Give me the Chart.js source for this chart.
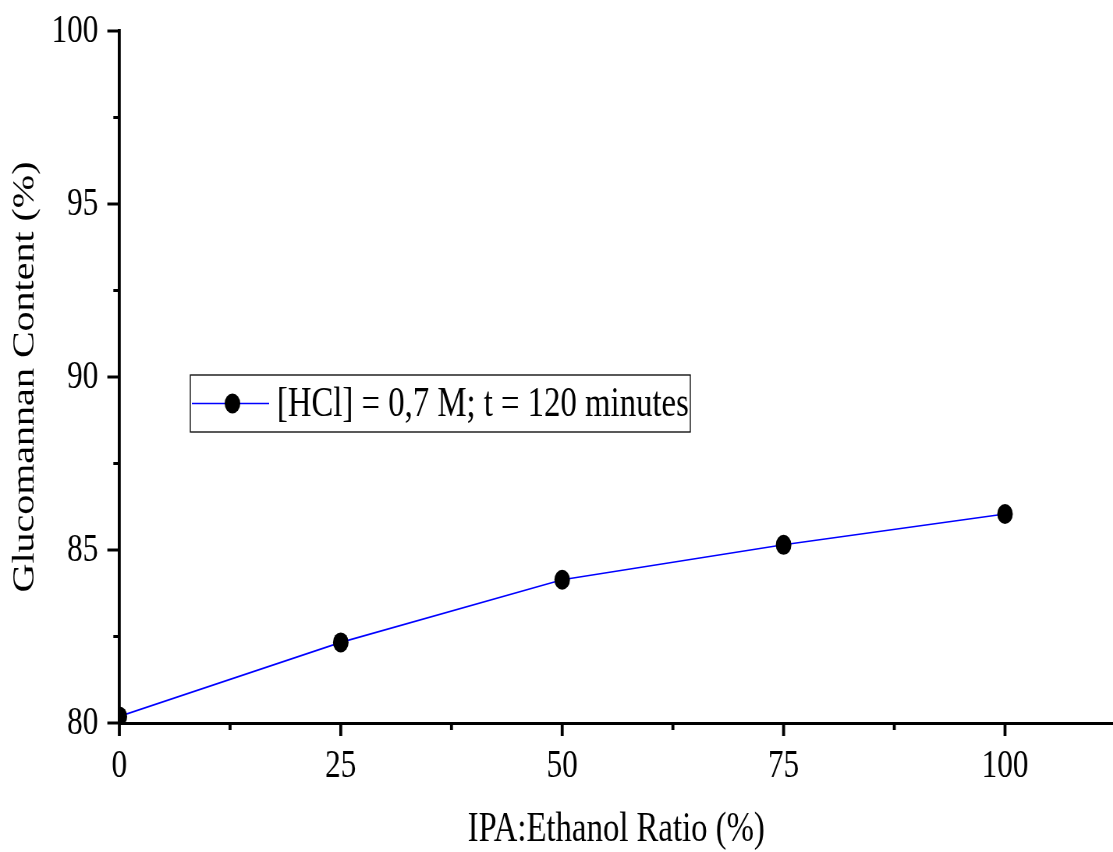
<!DOCTYPE html>
<html>
<head>
<meta charset="utf-8">
<script src="https://cdn.jsdelivr.net/npm/chart.js@4.4.0/dist/chart.umd.min.js"></script>
<style>
  html, body { margin: 0; padding: 0; overflow: hidden; background: #fff; }
  #wrap { width: 1113px; height: 852px; overflow: hidden; }
  #chart { transform: scaleX(0.78); transform-origin: 0 0; }
</style>
</head>
<body>
<div id="wrap"><canvas id="chart" width="1427" height="852"></canvas></div>
<script>
const ratios = [0, 25, 50, 75, 100];
const glucomannan = [80.19, 82.33, 84.14, 85.15, 86.04];
const seriesLabel = "[HCl] = 0,7 M; t = 120 minutes";
const xMajorTicks = [0, 25, 50, 75, 100];
const xMinorTicks = [12.5, 37.5, 62.5, 87.5];
const yMajorTicks = [80, 85, 90, 95, 100];
const yMinorTicks = [82.5, 87.5, 92.5, 97.5];

const serif = '"Liberation Serif", "Times New Roman", serif';
const squeeze = 0.78; // the original figure is squashed sideways

// outside tick marks, major and minor
const tickMarks = {
  id: "tickMarks",
  afterDraw(chart) {
    const ctx = chart.ctx;
    const { x, y } = chart.scales;
    const area = chart.chartArea;
    ctx.save();
    ctx.strokeStyle = "#000";
    ctx.lineWidth = 3.8;
    xMajorTicks.concat(xMinorTicks).forEach(v => {
      const len = xMajorTicks.includes(v) ? 13 : 7;
      const px = x.getPixelForValue(v);
      ctx.beginPath();
      ctx.moveTo(px, area.bottom);
      ctx.lineTo(px, area.bottom + len);
      ctx.stroke();
    });
    ctx.lineWidth = 3;
    yMajorTicks.concat(yMinorTicks).forEach(v => {
      const len = (yMajorTicks.includes(v) ? 12 : 6) / squeeze;
      const py = y.getPixelForValue(v);
      ctx.beginPath();
      ctx.moveTo(area.left, py);
      ctx.lineTo(area.left - len, py);
      ctx.stroke();
    });
    ctx.restore();
  }
};

// boxed legend inside the plot
const boxLegend = {
  id: "boxLegend",
  afterDraw(chart) {
    const ds = chart.data.datasets[0];
    const ctx = chart.ctx;
    const left = 244, top = 375, w = 641, h = 57;
    const cy = top + h / 2;
    ctx.save();
    ctx.fillStyle = "#fff";
    ctx.fillRect(left, top, w, h);
    ctx.strokeStyle = "#000";
    ctx.lineWidth = 1.3;
    ctx.strokeRect(left, top, w, h);
    ctx.strokeStyle = ds.borderColor;
    ctx.lineWidth = ds.borderWidth;
    ctx.beginPath();
    ctx.moveTo(left + 2, cy);
    ctx.lineTo(left + 101, cy);
    ctx.stroke();
    ctx.fillStyle = ds.pointBackgroundColor;
    ctx.beginPath();
    ctx.arc(left + 54, cy, ds.pointRadius, 0, Math.PI * 2);
    ctx.fill();
    ctx.fillStyle = "#000";
    ctx.font = "42px " + serif;
    ctx.textBaseline = "middle";
    ctx.fillText(ds.label, left + 111, cy + 1);
    ctx.restore();
  }
};

new Chart(document.getElementById("chart"), {
  type: "line",
  data: {
    datasets: [{
      label: seriesLabel,
      data: ratios.map((r, i) => ({ x: r, y: glucomannan[i] })),
      borderColor: "#0000ff",
      borderWidth: 1.6,
      pointRadius: 10,
      pointBackgroundColor: "#000",
      pointBorderColor: "#000",
      pointBorderWidth: 0,
      tension: 0,
      clip: 0
    }]
  },
  options: {
    responsive: false,
    animation: false,
    layout: { autoPadding: false, padding: { top: 31, right: 0, bottom: 0, left: 0 } },
    plugins: { legend: { display: false }, tooltip: { enabled: false } },
    scales: {
      x: {
        type: "linear",
        min: 0,
        max: 112.2,
        grid: { display: false, drawTicks: false },
        border: { display: true, color: "#000", width: 3 },
        ticks: {
          stepSize: 25,
          includeBounds: false,
          autoSkip: false,
          maxRotation: 0,
          padding: 19,
          color: "#000",
          font: { family: serif, size: 40 }
        },
        title: {
          display: true,
          text: "IPA:Ethanol Ratio (%)",
          color: "#000",
          font: { family: serif, size: 42, lineHeight: 1 },
          padding: { top: 0, bottom: 1 }
        },
        afterFit: s => {
          s.height = 129;
          s.paddingLeft = 0;
          s.paddingRight = 0;
        }
      },
      y: {
        min: 80,
        max: 100,
        grid: { display: false, drawTicks: false },
        border: { display: true, color: "#000", width: 3.8 },
        ticks: {
          stepSize: 5,
          padding: 27,
          color: "#000",
          font: { family: serif, size: 40 }
        },
        title: {
          display: true,
          text: "Glucomannan Content (%)",
          color: "#000",
          font: { family: serif, size: 40, lineHeight: 1 },
          padding: { top: 12, bottom: 0 }
        },
        afterFit: s => {
          s.width = 153;
          s.paddingTop = 0;
          s.paddingBottom = 0;
        }
      }
    }
  },
  plugins: [tickMarks, boxLegend]
});
</script>
</body>
</html>
